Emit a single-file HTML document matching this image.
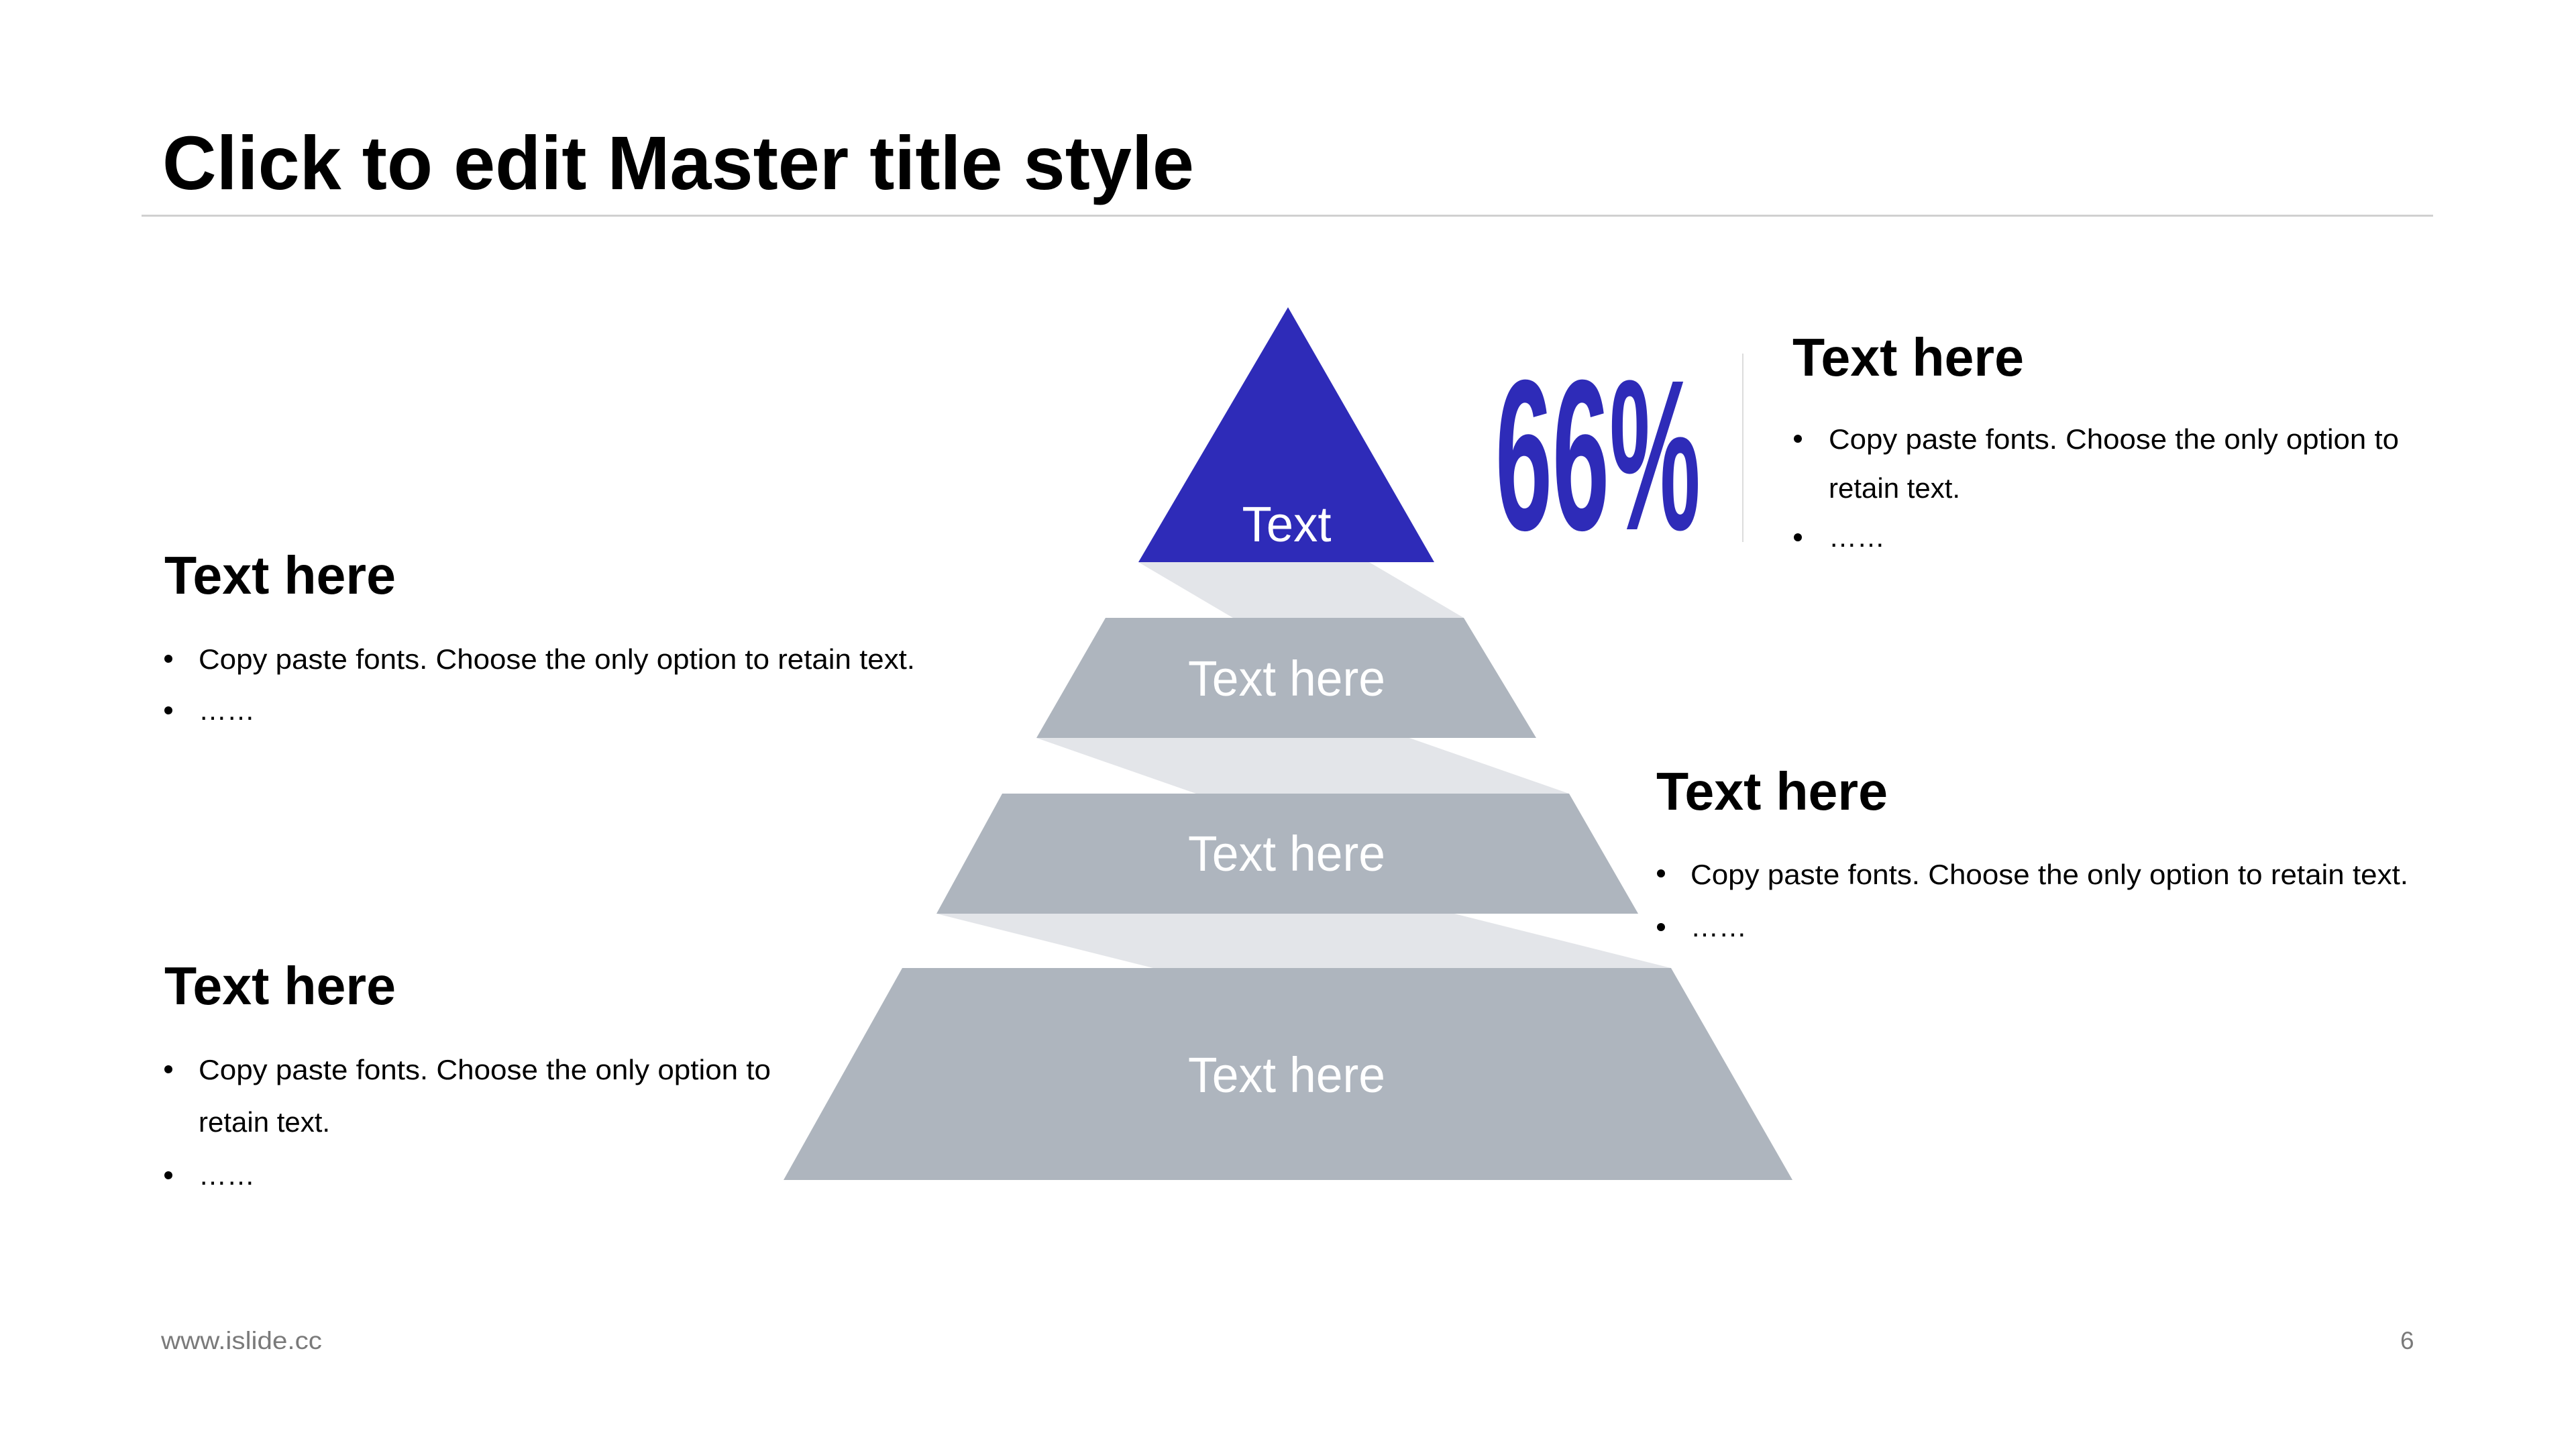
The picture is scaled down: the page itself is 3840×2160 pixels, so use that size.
<!DOCTYPE html>
<html><head><meta charset="utf-8"><style>html,body{margin:0;padding:0;background:#fff}svg{display:block}</style></head>
<body>
<svg width="3840" height="2160" viewBox="0 0 3840 2160" xmlns="http://www.w3.org/2000/svg" font-family="Liberation Sans, Arial, sans-serif">
<rect width="3840" height="2160" fill="#fff"/>
<text x="242" y="282" font-size="113" font-weight="bold" fill="#000" textLength="1538" lengthAdjust="spacingAndGlyphs">Click to edit Master title style</text>
<rect x="211" y="320" width="3416" height="3" fill="#d0d0d0"/>

<polygon points="1697,838 2041,838 2182,921 1838,921" fill="#e3e5e9"/>
<polygon points="1545,1100 2101,1100 2339,1183 1783,1183" fill="#e3e5e9"/>
<polygon points="1396,1362 2168,1362 2491,1443 1719,1443" fill="#e3e5e9"/>
<polygon points="1920,458 2138,838 1697,838" fill="#2e2bb8"/>
<polygon points="1648,921 2182,921 2290,1100 1545,1100" fill="#aeb5be"/>
<polygon points="1494,1183 2339,1183 2442,1362 1396,1362" fill="#aeb5be"/>
<polygon points="1345,1443 2491,1443 2672,1759 1168,1759" fill="#aeb5be"/>
<g fill="#fff" font-size="74" text-anchor="middle">
<text x="1918" y="807" textLength="133" lengthAdjust="spacingAndGlyphs">Text</text>
<text x="1918" y="1037" textLength="294" lengthAdjust="spacingAndGlyphs">Text here</text>
<text x="1918" y="1298" textLength="294" lengthAdjust="spacingAndGlyphs">Text here</text>
<text x="1918" y="1628" textLength="294" lengthAdjust="spacingAndGlyphs">Text here</text>
</g>

<text x="2229" y="789" font-family="Liberation Sans Narrow, Liberation Sans, sans-serif" font-weight="bold" font-size="320" fill="#2e2bb8" textLength="306" lengthAdjust="spacingAndGlyphs">66%</text>
<rect x="2597" y="527" width="2" height="281" fill="#dcdcdc"/>

<g fill="#000">
<text x="2672" y="560" font-size="80" font-weight="bold" textLength="345" lengthAdjust="spacingAndGlyphs">Text here</text>
<g font-size="42">
<circle cx="2680" cy="654" r="6"/>
<text x="2726" y="669" textLength="850" lengthAdjust="spacingAndGlyphs">Copy paste fonts. Choose the only option to</text>
<text x="2726" y="742">retain text.</text>
<circle cx="2680" cy="801" r="6"/>
<text x="2726" y="815">……</text>
</g>
<text x="2469" y="1207" font-size="80" font-weight="bold" textLength="345" lengthAdjust="spacingAndGlyphs">Text here</text>
<g font-size="42">
<circle cx="2476" cy="1302" r="6"/>
<text x="2520" y="1318" textLength="1070" lengthAdjust="spacingAndGlyphs">Copy paste fonts. Choose the only option to retain text.</text>
<circle cx="2476" cy="1382" r="6"/>
<text x="2520" y="1396">……</text>
</g>
<text x="245" y="885" font-size="80" font-weight="bold" textLength="345" lengthAdjust="spacingAndGlyphs">Text here</text>
<g font-size="42">
<circle cx="251" cy="982" r="6"/>
<text x="296" y="997" textLength="1068" lengthAdjust="spacingAndGlyphs">Copy paste fonts. Choose the only option to retain text.</text>
<circle cx="251" cy="1059" r="6"/>
<text x="296" y="1073">……</text>
</g>
<text x="245" y="1497" font-size="80" font-weight="bold" textLength="345" lengthAdjust="spacingAndGlyphs">Text here</text>
<g font-size="42">
<circle cx="251" cy="1594" r="6"/>
<text x="296" y="1609" textLength="853" lengthAdjust="spacingAndGlyphs">Copy paste fonts. Choose the only option to</text>
<text x="296" y="1687">retain text.</text>
<circle cx="251" cy="1752" r="6"/>
<text x="296" y="1766">……</text>
</g>
</g>

<text x="240" y="2011" font-size="37" fill="#7a7a7a" textLength="240" lengthAdjust="spacingAndGlyphs">www.islide.cc</text>
<text x="3578" y="2011" font-size="37" fill="#7a7a7a">6</text>
</svg>
</body></html>
